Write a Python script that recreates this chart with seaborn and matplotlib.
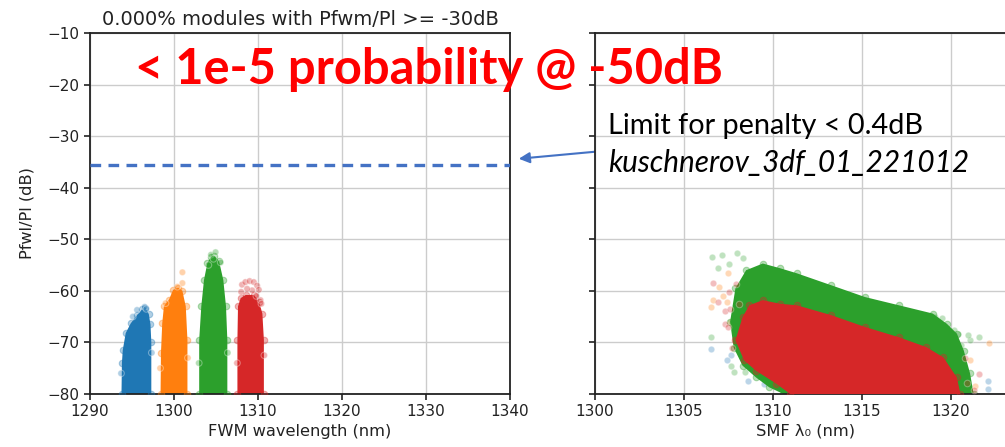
import matplotlib
matplotlib.use("Agg")
import matplotlib.pyplot as plt
import seaborn as sns
import pandas as pd

# ---------------- data ----------------
series = ["blue", "orange", "green", "red"]
palette = ["#1f77b4", "#ff7f0e", "#2ca02c", "#d62728"]

# Left panel: outline of each dense cloud (FWM wavelength nm, Pfwl/Pl dB)
fwm_blue_x = [1293.75, 1293.8, 1293.9, 1294.25, 1294.85, 1295.6, 1296.2, 1296.6, 1297.0, 1297.2, 1297.3, 1297.3]
fwm_blue_y = [-80, -74, -71.5, -68.2, -66.3, -64.7, -63.6, -63.4, -64.5, -66.5, -70, -80]
fwm_orange_x = [1298.4, 1298.45, 1298.6, 1298.8, 1299.4, 1299.9, 1300.5, 1301.0, 1301.4, 1301.6, 1301.6]
fwm_orange_y = [-80, -72, -66.3, -63.0, -61.7, -59.8, -59.4, -60.0, -63.0, -69.5, -80]
fwm_green_x = [1303.0, 1303.0, 1303.25, 1303.57, 1303.97, 1304.4, 1304.8, 1305.36, 1305.87, 1306.19, 1306.35, 1306.35]
fwm_green_y = [-80, -69.5, -63.0, -57.9, -54.6, -53.4, -53.2, -54.2, -57.9, -63.0, -69.5, -80]
fwm_red_x = [1307.55, 1307.55, 1307.62, 1307.94, 1308.53, 1309.52, 1310.12, 1310.52, 1310.7, 1310.7]
fwm_red_y = [-80, -69.5, -63.0, -61.4, -60.8, -60.8, -62.1, -64.4, -69.5, -80]

# Left panel: sparse points above / beside the dense clouds
fwm_out_series = ["blue"] * 6 + ["orange"] * 6 + ["green"] * 7 + ["red"] * 14
fwm_out_x = [1295.6, 1296.5, 1296.7, 1295.1, 1293.7, 1297.35,
             1301.0, 1301.0, 1299.0, 1300.4, 1298.35, 1301.65,
             1304.4, 1304.95, 1305.55, 1304.7, 1304.1, 1302.95, 1306.4,
             1308.1, 1308.5, 1309.0, 1309.5, 1309.9, 1310.1, 1309.3, 1308.7, 1310.3, 1310.4, 1308.0,
             1309.8, 1307.5, 1310.75]
fwm_out_y = [-63.7, -63.1, -63.5, -65.0, -76.0, -72.0,
             -56.4, -58.5, -62.4, -59.2, -75.0, -73.0,
             -53.0, -52.5, -54.5, -53.8, -55.0, -74.0, -72.0,
             -58.8, -58.3, -58.1, -58.3, -59.0, -59.8, -59.9, -59.6, -61.8, -62.5, -60.2,
             -61.0, -74.0, -72.5]

# Right panel: outline of the green and red dense clouds (SMF lambda0 nm, dB)
smf_green_x = [1308.5, 1309.44, 1310.4, 1311.36, 1313.28, 1315.19, 1317.1, 1319.0, 1319.8, 1320.36,
               1320.75, 1321.1, 1321.3, 1310.6, 1309.8, 1309.06, 1308.3, 1307.8, 1307.6, 1307.9]
smf_green_y = [-56.0, -54.7, -55.6, -56.6, -58.9, -61.2, -62.8, -64.4, -66.4, -68.3,
               -71.6, -76.0, -80, -80, -78.7, -76.8, -74.5, -71.0, -66.0, -59.5]
smf_red_x = [1308.68, 1309.44, 1310.4, 1311.36, 1313.28, 1315.19, 1317.1, 1318.64, 1319.6, 1320.36,
             1320.56, 1310.98, 1310.2, 1309.06, 1308.39, 1307.9, 1308.3]
smf_red_y = [-62.8, -61.8, -62.5, -62.8, -64.7, -67.0, -69.0, -70.9, -72.9, -76.8,
             -80, -80, -78.0, -75.5, -73.5, -69.6, -65.1]

# Right panel: sparse points around the clouds
smf_out_series = (["blue"] * 7 + ["orange"] * 12 + ["green"] * 18 + ["red"] * 14)
smf_out_x = [1306.53, 1307.64, 1309.48, 1322.1, 1322.1, 1307.4, 1308.6,
             1306.53, 1306.62, 1307.45, 1306.97, 1307.5, 1322.19, 1321.1, 1320.8, 1321.4, 1307.2,
             1307.6, 1319.9,
             1306.58, 1307.12, 1307.97, 1306.93, 1307.55, 1308.32, 1306.5, 1307.84, 1308.42, 1307.64,
             1321.6, 1321.1, 1320.4, 1319.1, 1320.2, 1320.6, 1321.0, 1319.5,
             1306.62, 1306.93, 1307.32, 1307.93, 1307.55, 1321.6, 1320.9, 1321.3, 1307.3, 1307.5,
             1307.7, 1308.1, 1307.6, 1320.8]
smf_out_y = [-71.2, -72.5, -78.0, -77.4, -79.0, -73.5, -77.5,
             -63.1, -61.7, -62.1, -59.2, -56.6, -70.2, -73.5, -75.5, -78.5, -61.0,
             -66.0, -74.0,
             -53.4, -53.05, -52.6, -55.5, -54.7, -53.7, -69.0, -75.8, -75.8, -74.5,
             -69.0, -69.6, -68.4, -65.1, -67.5, -70.5, -68.5, -65.2,
             -58.4, -62.1, -66.5, -58.6, -60.2, -76.2, -77.8, -79.2, -64.0, -67.0,
             -71.0, -62.5, -63.5, -73.0]

limit_db = -35.5
left_xticks = [1290, 1300, 1310, 1320, 1330, 1340]
right_xticks = [1300, 1305, 1310, 1315, 1320]
yticks = [-80, -70, -60, -50, -40, -30, -20, -10]

# ---------------- style ----------------
sns.set_style("whitegrid", {
    "axes.edgecolor": "#222222",
    "grid.color": "#cccccc",
    "xtick.bottom": True,
    "ytick.left": True,
    "axes.linewidth": 1.3,
})
plt.rcParams["font.family"] = ["DejaVu Sans"]
plt.rcParams["xtick.color"] = "#222222"
plt.rcParams["ytick.color"] = "#222222"
plt.rcParams["xtick.major.size"] = 4
plt.rcParams["ytick.major.size"] = 4
plt.rcParams["text.color"] = "#222222"
plt.rcParams["axes.labelcolor"] = "#222222"

W, H = 1005, 447
fig = plt.figure(figsize=(W / 100, H / 100), dpi=100)
ax1 = fig.add_axes([90 / W, (H - 394) / H, 420 / W, 361 / H])
ax2 = fig.add_axes([595 / W, (H - 394) / H, (W - 595) / W + 0.01, 361 / H])

color_of = dict(zip(series, palette))
pt = dict(s=22, linewidth=0.8)

# Left panel clouds
left_outlines = [(fwm_blue_x, fwm_blue_y), (fwm_orange_x, fwm_orange_y),
                 (fwm_green_x, fwm_green_y), (fwm_red_x, fwm_red_y)]
for name, (xs, ys) in zip(series, left_outlines):
    ax1.fill(xs, ys, color=color_of[name], lw=0, zorder=2)
    ax1.scatter(xs, ys, color=color_of[name], alpha=0.35, zorder=3, **pt)
df_l = pd.DataFrame({"x": fwm_out_x, "y": fwm_out_y, "s": fwm_out_series})
sns.scatterplot(data=df_l, x="x", y="y", hue="s", hue_order=series, palette=palette,
                alpha=0.35, legend=False, ax=ax1, zorder=3, **pt)

# Right panel clouds: sparse points first, then green, then red on top
df_r = pd.DataFrame({"x": smf_out_x, "y": smf_out_y, "s": smf_out_series})
for name in ["blue", "orange", "green"]:
    sub = df_r[df_r.s == name]
    sns.scatterplot(data=sub, x="x", y="y", color=color_of[name], alpha=0.3,
                    legend=False, ax=ax2, zorder=2, **pt)
ax2.fill(smf_green_x, smf_green_y, color=color_of["green"], lw=0, zorder=2)
ax2.scatter(smf_green_x, smf_green_y, color=color_of["green"], alpha=0.35, zorder=2, **pt)
sub = df_r[df_r.s == "red"]
sns.scatterplot(data=sub, x="x", y="y", color=color_of["red"], alpha=0.3,
                legend=False, ax=ax2, zorder=3, **pt)
ax2.fill(smf_red_x, smf_red_y, color=color_of["red"], lw=0, zorder=3)
ax2.scatter(smf_red_x, smf_red_y, color=color_of["red"], alpha=0.35, zorder=3, **pt)

# Limit line
ax1.axhline(limit_db, color="#4472C4", lw=2.4, ls=(0, (3.2, 2.2)), zorder=4)

# Axes settings
ax1.set_xlim(left_xticks[0], left_xticks[-1])
ax1.set_xticks(left_xticks)
ax2.set_xlim(1300, 1300 + (W - 595) / 17.35)
ax2.set_xticks(right_xticks)
for ax in (ax1, ax2):
    ax.set_ylim(-80, -10)
    ax.set_yticks(yticks)
    ax.tick_params(labelsize=11, width=1.2)
    ax.grid(True, color="#cccccc", lw=1.0)
    ax.set_axisbelow(True)
    for sp in ax.spines.values():
        sp.set_color("#222222")
        sp.set_linewidth(1.3)
ax2.spines["right"].set_visible(False)
ax2.tick_params(labelleft=False)
ax1.set_yticklabels([f"\u2212{abs(v)}" for v in yticks])

ax1.set_title("0.000% modules with Pfwm/Pl >= -30dB", fontsize=14, pad=6)
ax1.set_xlabel("FWM wavelength (nm)", fontsize=11.7, labelpad=3)
ax1.set_ylabel("Pfwl/Pl (dB)", fontsize=11.7, labelpad=9)
ax2.set_xlabel("SMF \u03bb\u2080 (nm)", fontsize=11.7, labelpad=3)
ax2.set_ylabel("")

# Annotations
fig.text(135 / W, 1 - 70 / H, "< 1e-5 probability @ -50dB", fontsize=35.2, weight="bold",
         color="#ff0000", va="center", ha="left", family=["Lato", "DejaVu Sans"], zorder=10)
fig.text(608 / W, 1 - 126 / H, "Limit for penalty < 0.4dB", fontsize=20.8,
         color="black", va="center", ha="left", family=["Lato", "DejaVu Sans"])
fig.text(608 / W, 1 - 163 / H, "kuschnerov_3df_01_221012", fontsize=21.4, style="italic",
         color="black", va="center", ha="left", family=["Lato", "DejaVu Sans"])
ax1.annotate("", xy=(516, H - 159), xycoords="figure pixels",
             xytext=(603, H - 151), textcoords="figure pixels",
             arrowprops=dict(arrowstyle="-|>", color="#4472C4", lw=1.5, mutation_scale=16),
             annotation_clip=False)

fig.savefig("out.png", dpi=100)
